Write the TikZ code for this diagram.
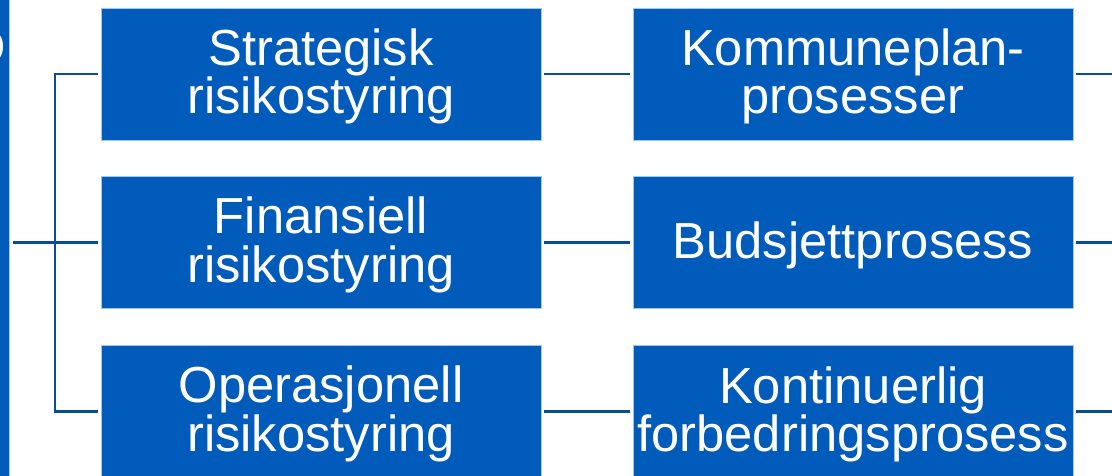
\documentclass[tikz,border=0pt]{standalone}
\usepackage{fontspec}
\setmainfont{Liberation Sans}
\definecolor{boxblue}{HTML}{005BBB}
\definecolor{edgeblue}{HTML}{A3C6EC}
\definecolor{lineblue}{HTML}{0A4C98}
\begin{document}
\begin{tikzpicture}[x=1pt,y=-1pt,
  blbox/.style={fill=boxblue,draw=edgeblue,line width=0.8pt,minimum width=440pt,minimum height=132pt,inner sep=0pt},
  lbl/.style={inner sep=0pt,text=white,align=center,font=\fontsize{50.7}{48.5}\selectfont},
  conn/.style={draw=lineblue,line width=2.6pt}]
\useasboundingbox (0,0) rectangle (1112,476);
\begin{scope}
\clip (0,0) rectangle (1112,476);
% left (clipped) box
\node[fill=boxblue,draw=edgeblue,line width=0.8pt,minimum width=200pt,minimum height=500pt,inner sep=0pt,anchor=east] (root) at (9.5,238) {};
\node[lbl,anchor=base east] (rootlabel) at (6.5,65) {O};
% middle column
\node[blbox] (s) at (321,74) {};
\node[blbox] (f) at (321,242.5) {};
\node[blbox] (o) at (321,411.5) {};
\node[lbl] (sl) at ([yshift=-2.3pt]s.center) {Strategisk\\risikostyring};
\node[lbl] (fl) at ([yshift=-2.3pt]f.center) {Finansiell\\risikostyring};
\node[lbl] (ol) at ([yshift=-2.3pt]o.center) {Operasjonell\\risikostyring};
% right column
\node[blbox] (k) at (853,74) {};
\node[blbox] (b) at (853,242.5) {};
\node[blbox] (kf) at (853,411.5) {};
\node[lbl] (kl) at ([yshift=-2.3pt]k.center) {Kommuneplan-\\prosesser};
\node[lbl] (bl) at ([yshift=-3pt]b.center) {Budsjettprosess};
\node[lbl] (kfl) at ([yshift=-2.8pt]kf.center) {Kontinuerlig\\forbedringsprosess};
% bracket
\coordinate (rj) at (55,242.5);
\coordinate (rs) at (13,242.5);
\draw[conn] (rs) -- (rj);
\draw[conn] ([xshift=-3pt]s.west) -| (rj) |- ([xshift=-3pt]o.west);
\draw[conn] (rj) -- ([xshift=-3pt]f.west);
% middle to right
\draw[conn] ([xshift=3pt]s.east) -- ([xshift=-3pt]k.west);
\draw[conn] ([xshift=3pt]f.east) -- ([xshift=-3pt]b.west);
\draw[conn] ([xshift=3pt]o.east) -- ([xshift=-3pt]kf.west);
% right stubs
\coordinate (e1) at (1115,74);
\coordinate (e2) at (1115,242.5);
\coordinate (e3) at (1115,411.5);
\draw[conn] ([xshift=3pt]k.east) -- (e1);
\draw[conn] ([xshift=3pt]b.east) -- (e2);
\draw[conn] ([xshift=3pt]kf.east) -- (e3);
\end{scope}
\end{tikzpicture}
\end{document}
